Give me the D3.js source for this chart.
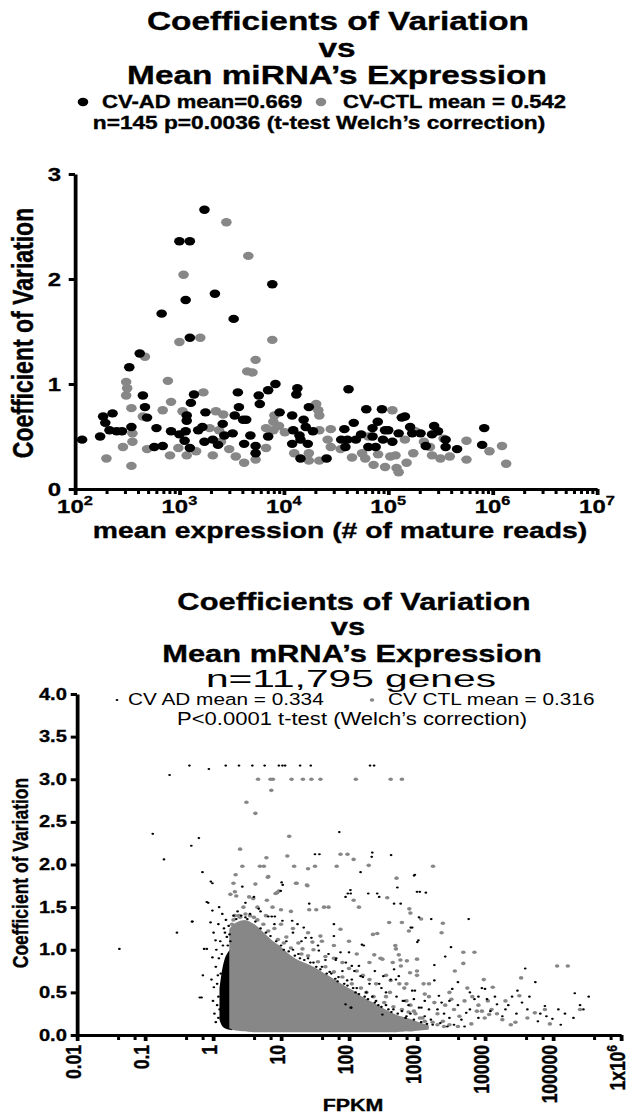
<!DOCTYPE html>
<html>
<head>
<meta charset="utf-8">
<script src="https://cdn.jsdelivr.net/npm/d3@7"></script>
<style>
  body { margin: 0; background: #fff; }
  text { font-family: "Liberation Sans", Arial, Helvetica, sans-serif; }
</style>
</head>
<body>
<div id="plot"></div>
<script>
// ---- miRNA panel: [mean reads, CV] ----
var adMirna = [
  [117,0.47],[174,0.50],[186,0.69],[195,0.63],[229,0.72],[214,0.56],[251,0.55],[282,0.55],[331,1.16],[347,0.59],
  [417,1.29],[447,0.89],[468,0.78],[490,0.68],[603,0.58],[575,0.40],[692,0.41],[832,0.55],[1175,0.70],[1175,0.65],
  [1148,0.55],[1122,0.46],[1259,0.39],[1288,0.82],[1380,0.90],[1514,0.56],[1660,0.59],[1778,0.73],[1738,0.45],[2089,0.47],
  [2344,0.42],[2692,0.51],[3236,0.53],[3631,0.92],[3715,0.78],[3388,0.70],[4074,0.66],[4169,0.43],[1000,0.52],[2600,0.62],
  [1738,2.66],[1000,2.36],[1259,2.36],[1148,1.80],[2188,1.86],[7762,1.95],[676,1.67],[3311,1.62],[1259,1.44],
  [5754,0.89],[7079,0.94],[8318,1.00],[5888,0.81],[9120,0.73],[13490,0.96],[13183,0.90],[12023,0.70],[17378,0.78],[15488,0.66],
  [12303,0.56],[14125,0.51],[12023,0.43],[14454,0.47],[16218,0.59],[16982,0.43],[14454,0.29],[25704,0.29],[4365,0.66],[4786,0.51],
  [5370,0.41],[5370,0.34],[7079,0.50],[41687,0.95],[38019,0.57],[46774,0.63],[35481,0.47],[40738,0.47],[48978,0.47],[38905,0.40],
  [61660,0.76],[87096,0.76],[79433,0.64],[70795,0.58],[93325,0.56],[70795,0.50],[64565,0.40],[75858,0.40],[89125,0.47],[109648,0.45],
  [125893,0.53],[134896,0.68],[144544,0.69],[162181,0.59],[169824,0.53],[204174,0.53],[275423,0.60],[263027,0.52],[229087,0.41],[354813,0.47],
  [354813,0.40],[457088,0.38],[831764,0.58],[794328,0.42],[19000,0.55],[55000,0.52],[100000,0.56],[300000,0.55]
];
var ctlMirna = [
  [200,0.29],[288,0.40],[309,1.02],[316,0.96],[309,0.89],[347,0.77],[355,0.53],[355,0.45],[347,0.22],[468,1.26],
  [447,0.69],[490,0.38],[692,0.75],[776,1.03],[832,0.83],[813,0.32],[977,0.39],[1072,0.74],[1175,0.32],[1445,0.36],
  [1698,0.92],[1950,0.58],[2239,0.74],[2630,0.71],[2089,0.32],[2399,0.56],[3467,0.31],[4169,0.25],[4467,1.12],[1000,1.40],
  [2818,2.54],[4571,2.22],[1096,2.04],[1585,1.44],[7762,1.42],[5370,1.23],[5012,1.11],
  [8128,0.70],[7943,0.64],[6761,0.58],[7943,0.56],[10233,0.54],[6761,0.39],[5370,0.28],[20417,0.81],[21380,0.75],
  [21878,0.70],[21878,0.56],[28184,0.57],[26303,0.47],[28184,0.40],[12589,0.34],[17378,0.34],[17378,0.27],[21878,0.27],[56234,0.34],
  [60256,0.29],[72444,0.23],[93325,0.21],[120226,0.20],[125893,0.16],[104713,0.31],[117490,0.32],[109648,0.75],[144544,0.47],[173780,0.34],
  [64565,0.50],[181970,0.55],[251189,0.40],[263027,0.32],[316228,0.29],[389045,0.31],[338844,0.48],[562341,0.46],[562341,0.28],[933254,0.36],
  [1230269,0.41],[1348963,0.24],[2500,0.45],[3000,0.38],[9000,0.60],[35000,0.38],[45000,0.30],[80000,0.33],[150000,0.25],[220000,0.45]
];
var mirnaTickExp = [2, 3, 4, 5, 6, 7];
var mirnaYTicks = [0, 1, 2, 3];

// ---- mRNA panel: dense cores [FPKM, low CV, high CV] read as outlines ----
var adCoreFpkm = [1.3, 1.45, 1.6, 1.85];
var adCoreLow  = [0.18, 0.10, 0.08, 0.07];
var adCoreHigh = [0.55, 0.80, 0.92, 1.00];

var ctlCoreFpkm = [1.85, 2.2, 3, 4, 5.3, 7, 9.3, 12, 16.6, 22, 28.5, 40, 51, 70, 89, 120, 155, 200, 278, 380, 490, 650, 850, 1070, 1400];
var ctlCoreHigh = [1.24, 1.30, 1.33, 1.28, 1.19, 1.10, 1.03, 0.95, 0.87, 0.83, 0.79, 0.72, 0.67, 0.60, 0.55, 0.49, 0.43, 0.38, 0.32, 0.26, 0.22, 0.19, 0.16, 0.13, 0.10];
var ctlCoreLow  = [0.09, 0.07, 0.06, 0.05, 0.05, 0.05, 0.05, 0.05, 0.05, 0.05, 0.05, 0.05, 0.05, 0.05, 0.05, 0.05, 0.05, 0.05, 0.05, 0.05, 0.05, 0.06, 0.06, 0.07, 0.08];

// scattered genes outside the cores: [FPKM, CV]
var adGenes = [
  [0.45,3.16],[0.87,3.12],[1.54,3.16],[2.41,3.16],[3.79,3.16],[5.75,3.16],[9.3,3.16],[10.5,3.16],[11.5,3.16],[19.1,3.16],
  [27.4,3.16],[204,3.16],[234,3.16],[0.23,3.05],[0.13,2.36],[0.62,2.31],[0.48,2.22],[0.19,2.06],[0.70,1.91],[0.98,1.78],
  [2.7,1.74],[10.2,1.79],[10.6,1.76],[31.6,2.12],[36.7,2.12],[4.0,1.62],[72,2.38],[220,2.14],[216,2.09],[416,2.11],
  [148,1.91],[930,1.88],[514,1.73],[105,1.70],[96,1.66],[192,1.66],[278,1.62],[1000,1.68],[1100,1.68],[0.042,1.01],
  [0.295,1.20],[0.49,1.33],[0.81,1.56],[0.64,0.44],[0.71,0.70],[0.81,1.01],[0.93,1.80],[1350,1.67],[575,1.54],[260,1.66],
  [5750,1.36],[1620,1.36],[810,1.26],[155,1.06],[1050,1.11],[3160,1.03],[2600,0.92],[1800,0.82],[39000,0.78],[209000,0.49],
  [335000,0.45],[250000,0.35],[76000,0.34],[98000,0.19],[42000,0.30],[29000,0.25],[22000,0.35],[10700,0.42],[7000,0.42],[10000,0.54],
  [15000,0.36],[4000,0.62],[3300,0.54],[1800,0.64],[2100,0.46],[1600,0.18],[930,0.52],[540,0.69],[410,0.65],[320,0.69],
  [240,0.75],[94,0.64],[108,0.32],[620,0.40],[1160,0.32],[5300,0.26],[8000,0.20],[0.85,1.55],[0.50,1.33],[0.98,1.46],
  [0.74,1.01],[0.68,0.44],[1.23,1.50],[1.37,1.42],[1.2,1.30],[0.92,1.32],[1.09,1.11],[0.98,0.91],[1.03,0.56],[9.9,1.69],
  [4.7,1.48],[6.5,1.39],[7.3,1.39],[8.1,1.39],[10.5,1.34],[14.6,1.34],[17.5,1.30],[21.6,1.26],[60,1.30],[89,1.62],
  [106,1.66],[460,1.54],[905,1.87],[165,1.05],[60,1.16],[100,0.97],[75,0.97],[110,0.81],[140,0.81],[148,0.69],
  [278,0.60],[460,0.77],[490,0.65],[850,0.52],[1070,0.32],[1010,1.09],[850,1.26],[1070,1.38],[26,1.54],[23,1.14],
  [28,1.14],[36,0.99],[45,0.88],[64,0.88],[80,0.75],[110,0.65],[89,0.36],[106,0.32],[250,0.40],[310,0.24],
  [680,0.20],[1.1,0.80],[1.15,0.60],[1.2,0.45],[1.25,0.30],[1.2,0.20],[1.4,1.05],[1.5,1.20],[1.6,1.15],[1.7,1.28],
  [1.35,0.95],[1.15,0.35],[2.0,1.40],[2.3,1.45],[3.0,1.38],[3.5,1.42],[12,1.10],[15,1.00],[18,0.95],[25,0.90],
  [30,0.85],[40,0.80],[55,0.72],[70,0.68],[130,0.55],[180,0.50],[220,0.45],[350,0.35],[450,0.30],[600,0.28],
  [800,0.25],[1300,0.22],[2000,0.30],[2500,0.25],[3000,0.20],[4500,0.18],[6000,0.30],[12000,0.28],[18000,0.22],[60000,0.16],
  [150000,0.25],[280000,0.30],[130000,0.12],[55000,0.62],[30000,0.52],
  [2.2,1.36],[2.6,1.40],[3.2,1.36],[4.2,1.33],[5,1.25],[6,1.20],[7,1.16],[8.5,1.10],[10,1.05],[11,1.00],
  [13,0.98],[16,0.93],[19,0.90],[22,0.88],[27,0.85],[33,0.80],[38,0.77],[47,0.72],[52,0.74],[63,0.66],
  [68,0.63],[85,0.60],[95,0.58],[115,0.55],[125,0.50],[140,0.48],[170,0.45],[190,0.42],[240,0.38],[270,0.35],
  [300,0.33],[380,0.30],[420,0.27],[520,0.25],[700,0.22],[900,0.18],[1150,0.15],[1400,0.13],[1700,0.12],[2200,0.14],
  [2800,0.10],[3500,0.12],[5000,0.10],[1.05,0.25],[1.1,0.15],[1.0,0.40],[1.18,0.70],[1.22,0.90],[1.28,1.10],[1.3,0.72],
  [1.45,1.25],[1.55,1.35],[1.65,1.05],[1.75,1.18],[1.8,1.10],[0.95,0.65],[1.12,1.00],[1.02,1.20],[3,1.55],[5,1.45],
  [8,1.30],[15,1.20],[20,1.10],[35,1.05],[50,0.95],[65,0.90],[90,0.85],[120,0.75],[160,0.68],[200,0.60],
  [300,0.55],[350,0.50],[500,0.45],[650,0.40],[750,0.35],[900,0.42],[1300,0.40],[1500,0.30],[2300,0.38],[3000,0.40],
  [4000,0.35],[6000,0.50],[8000,0.45],[9000,0.55],[14000,0.45],[20000,0.30],[25000,0.45],[35000,0.38],[45000,0.45],[65000,0.25],
  [80000,0.22],[120000,0.30],[200000,0.20]
];
var ctlGenes = [
  [4.6,3.0],[7.0,3.0],[7.6,3.0],[14.3,3.0],[21,3.0],[28,3.0],[38,3.0],[126,3.0],[410,3.0],[600,3.0],
  [7.2,2.87],[3.1,2.73],[4.2,2.60],[13.2,2.33],[2.5,2.18],[6.1,2.08],[12.4,2.10],[2.7,1.98],[4.9,1.98],[5.6,1.98],
  [15.6,1.98],[25,1.95],[31.6,1.98],[66,1.98],[195,1.99],[1720,1.98],[2.15,1.88],[6.5,1.86],[4.2,1.77],[2.0,1.78],
  [8.8,1.67],[17,1.78],[24,1.76],[1.8,1.65],[2.1,1.68],[2.2,1.63],[3.4,1.62],[75,2.12],[95,2.12],[117,2.06],
  [500,1.84],[365,1.61],[115000,0.81],[165000,0.81],[34000,0.67],[4800,0.97],[7000,0.97],[2300,1.20],[2400,1.31],[1150,1.36],
  [770,1.48],[800,1.43],[390,1.32],[225,1.18],[480,1.05],[290,0.90],[580,0.81],[710,0.87],[1000,0.89],[790,0.73],
  [3600,0.75],[4800,0.84],[9600,0.65],[13000,0.56],[7600,0.28],[9900,0.20],[6300,0.13],[24000,0.12],[54000,0.26],[42000,0.20],
  [76000,0.30],[90000,0.13],[250000,0.30],[11500,0.24],[2400,0.16],[6.4,1.85],[16.6,1.78],[24.5,1.75],[9.3,1.69],[8.3,1.66],
  [3.9,1.60],[6.2,1.58],[7.5,1.50],[10,1.47],[14,1.45],[26,1.47],[33,1.47],[43,1.50],[50,1.50],[140,1.50],
  [117,1.58],[75,1.24],[38,1.16],[29,1.09],[20.7,1.01],[260,1.19],[235,0.94],[490,1.01],[540,0.94],[600,1.32],
  [760,1.22],[310,0.89],[440,0.85],[570,0.88],[1000,0.75],[1000,0.70],[410,0.64],[1250,0.60],[1500,0.45],[1800,0.38],
  [2000,0.25],[2600,0.35],[3000,0.50],[3200,0.42],[3500,0.30],[4200,0.22],[5000,0.40],[5500,0.55],[6500,0.45],[8000,0.35],
  [9000,0.28],[11000,0.40],[12500,0.30],[15000,0.25],[18000,0.18],[20000,0.40],[28000,0.15],[32000,0.46],[700,0.40],[800,0.35],
  [900,0.28],[1200,0.20],[1300,0.48],[650,0.55],[550,0.60],[400,0.50],[350,0.45],[250,0.60],[200,0.65],[160,0.70],
  [130,0.75],[100,0.78],[80,0.85],[60,0.90],[45,0.92],[30,1.00],[18,1.08],[12,1.15],[8,1.25],[5.5,1.30],
  [4,1.38],[3,1.42],[2.4,1.40],[2.0,1.35],[1.9,1.20],
  [2.5,1.38],[3.5,1.40],[4.5,1.35],[6.5,1.22],[9,1.12],[11,1.08],[14,1.02],[20,0.95],[25,0.93],[35,0.86],
  [45,0.80],[60,0.74],[80,0.68],[110,0.60],[150,0.55],[180,0.50],[230,0.45],[330,0.38],[450,0.33],[600,0.30],
  [750,0.27],[950,0.25],[1100,0.20],[1300,0.16],[1700,0.15],[2000,0.12],[2500,0.10],[3000,0.12],[4000,0.10],[1.9,1.30],
  [2.1,1.40],[2.8,1.50],[4.5,1.50],[6,1.40],[10,1.30],[15,1.25],[25,1.20],[40,1.10],[60,1.05],[100,1.10],
  [130,0.95],[200,0.85],[350,0.70],[700,0.60],[1500,0.60]
];
var mrnaTicks = [0.01, 0.1, 1, 10, 100, 1000, 10000, 100000, 1000000];
var mrnaTickLabels = ["0.01", "0.1", "1", "10", "100", "1000", "10000", "100000", "1x10"];
var mrnaYTicks = [0, 0.5, 1, 1.5, 2, 2.5, 3, 3.5, 4];

var black = "#000", grey = "#878787";
var sx = 1.26;   // the whole figure is stretched sideways

var svg = d3.select("#plot").append("svg")
  .attr("width", 630)
  .attr("height", 1119);
var g = svg.append("g").attr("transform", "scale(" + sx + ",1)");

function label(x, y, str, size, weight, anchor) {
  var t = g.append("text")
    .attr("x", x / sx)
    .attr("y", y)
    .attr("text-anchor", anchor || "middle")
    .attr("font-size", size)
    .attr("font-weight", weight)
    .text(str);
  if (weight === "bold") t.attr("stroke", "#000").attr("stroke-width", 0.35);
  return t;
}

// ================= miRNA panel =================
label(338, 30, "Coefficients of Variation", 26.5, "bold");
label(337, 57, "vs", 26.5, "bold");
label(337, 84, "Mean miRNA\u2019s Expression", 26.5, "bold");
g.append("circle").attr("cx", 83 / sx).attr("cy", 102).attr("r", 4.2).attr("fill", black);
label(102, 108, "CV-AD mean=0.669", 17.5, "bold", "start");
g.append("circle").attr("cx", 321 / sx).attr("cy", 102).attr("r", 4.2).attr("fill", grey);
label(343, 108, "CV-CTL mean = 0.542", 17.5, "bold", "start");
label(319, 129, "n=145 p=0.0036 (t-test Welch\u2019s correction)", 18, "bold");

var xTop = d3.scaleLog().domain([1e2, 1e7]).range([75 / sx, 597 / sx]);
var yTop = d3.scaleLinear().domain([0, 3]).range([489, 174]);

var minorTop = [];
mirnaTickExp.slice(0, -1).forEach(function(e) {
  for (var k = 2; k < 10; k++) minorTop.push(k * Math.pow(10, e));
});

g.append("g")
  .attr("transform", "translate(0,489)")
  .attr("stroke-width", 3)
  .call(d3.axisBottom(xTop)
    .tickValues(mirnaTickExp.map(function(e) { return Math.pow(10, e); }))
    .tickSize(6).tickSizeOuter(0).tickFormat(""));
g.append("g")
  .attr("transform", "translate(0,489)")
  .attr("stroke-width", 2.4)
  .call(d3.axisBottom(xTop).tickValues(minorTop).tickSize(5).tickFormat(""))
  .select(".domain").remove();

mirnaTickExp.forEach(function(e) {
  var t = g.append("text")
    .attr("x", xTop(Math.pow(10, e)))
    .attr("y", 513)
    .attr("text-anchor", "middle")
    .attr("font-size", 19)
    .attr("font-weight", "bold")
    .attr("stroke", "#000").attr("stroke-width", 0.3);
  t.append("tspan").text("10");
  t.append("tspan").attr("dy", -8).attr("font-size", 13).text(e);
});

var yAxisTop = g.append("g")
  .attr("transform", "translate(" + 75 / sx + ",0)")
  .attr("stroke-width", 3)
  .call(d3.axisLeft(yTop).tickValues(mirnaYTicks).tickSize(5).tickSizeOuter(0).tickPadding(6).tickFormat(d3.format("d")));
yAxisTop.selectAll("text")
  .attr("font-size", 19)
  .attr("font-weight", "bold")
  .attr("stroke-width", 0.3)
  .attr("stroke", "#000")
  .attr("font-family", "Liberation Sans, Arial, sans-serif");

g.append("text")
  .attr("transform", "translate(" + 33 / sx + ",333) rotate(-90)")
  .attr("text-anchor", "middle")
  .attr("font-size", 23)
  .attr("font-weight", "bold")
  .attr("stroke", "#000").attr("stroke-width", 0.35)
  .text("Coefficient of Variation");
label(340, 538, "mean expression (# of mature reads)", 22.5, "bold");

g.append("g").selectAll("circle")
  .data(ctlMirna).enter().append("circle")
  .attr("cx", function(d) { return xTop(d[0]); })
  .attr("cy", function(d) { return yTop(d[1]); })
  .attr("r", 4.2)
  .attr("fill", grey);
g.append("g").selectAll("circle")
  .data(adMirna).enter().append("circle")
  .attr("cx", function(d) { return xTop(d[0]); })
  .attr("cy", function(d) { return yTop(d[1]); })
  .attr("r", 4.2)
  .attr("fill", black);

// ================= mRNA panel =================
label(354, 610, "Coefficients of Variation", 24.5, "bold");
label(348, 635, "vs", 24.5, "bold");
label(352, 662, "Mean mRNA\u2019s Expression", 24.5, "bold");
label(351, 687, "n=11,795 genes", 24, "normal")
  .attr("textLength", 290 / sx)
  .attr("lengthAdjust", "spacingAndGlyphs");
g.append("circle").attr("cx", 117 / sx).attr("cy", 700).attr("r", 1.1).attr("fill", black);
label(128, 705, "CV AD mean = 0.334", 16.5, "normal", "start");
g.append("circle").attr("cx", 372 / sx).attr("cy", 700).attr("r", 1.8).attr("fill", grey);
label(388, 705, "CV CTL mean = 0.316", 16.5, "normal", "start");
label(352, 725, "P<0.0001 t-test (Welch\u2019s correction)", 17.5, "normal");

var xBot = d3.scaleLog().domain([0.01, 1e6]).range([77 / sx, 621 / sx]);
var yBot = d3.scaleLinear().domain([0, 4]).range([1035, 694]);

var minorBot = [];
mrnaTicks.slice(0, -1).forEach(function(v) { minorBot.push(4 * v, 7 * v); });

g.append("g")
  .attr("transform", "translate(0,1035)")
  .attr("stroke-width", 3)
  .call(d3.axisBottom(xBot).tickValues(mrnaTicks).tickSize(6).tickSizeOuter(0).tickFormat(""));
g.append("g")
  .attr("transform", "translate(0,1035)")
  .attr("stroke-width", 2.4)
  .call(d3.axisBottom(xBot).tickValues(minorBot).tickSize(5).tickFormat(""))
  .select(".domain").remove();

mrnaTicks.forEach(function(v, i) {
  var t = g.append("text")
    .attr("transform", "translate(" + xBot(v) + ",1045) rotate(-90)")
    .attr("text-anchor", "end")
    .attr("dy", "0.2em")
    .attr("font-size", 17.5)
    .attr("font-weight", "bold")
    .attr("stroke", "#000").attr("stroke-width", 0.3);
  t.append("tspan").text(mrnaTickLabels[i]);
  if (v === 1000000) t.append("tspan").attr("dy", -7).attr("font-size", 12).text("6");
});

var yAxisBot = g.append("g")
  .attr("transform", "translate(" + 77 / sx + ",0)")
  .attr("stroke-width", 3)
  .call(d3.axisLeft(yBot).tickValues(mrnaYTicks).tickSize(5).tickSizeOuter(0).tickPadding(3).tickFormat(d3.format(".1f")));
yAxisBot.selectAll("text")
  .attr("font-size", 16)
  .attr("font-weight", "bold")
  .attr("stroke-width", 0.3)
  .attr("stroke", "#000")
  .attr("font-family", "Liberation Sans, Arial, sans-serif");

g.append("text")
  .attr("transform", "translate(" + 28 / sx + ",873) rotate(-90)")
  .attr("text-anchor", "middle")
  .attr("font-size", 17.5)
  .attr("font-weight", "bold")
  .attr("stroke", "#000").attr("stroke-width", 0.3)
  .text("Coefficient of Variation");
label(353, 1111, "FPKM", 17, "bold");

var core = d3.area()
  .x(function(d) { return xBot(d[0]); })
  .y0(function(d) { return yBot(d[1]); })
  .y1(function(d) { return yBot(d[2]); })
  .curve(d3.curveCatmullRom);

g.append("path")
  .datum(d3.zip(adCoreFpkm, adCoreLow, adCoreHigh))
  .attr("d", core)
  .attr("fill", black)
  .attr("stroke", black)
  .attr("stroke-width", 2);
g.append("path")
  .datum(d3.zip(ctlCoreFpkm, ctlCoreLow, ctlCoreHigh))
  .attr("d", core)
  .attr("fill", grey)
  .attr("stroke", grey)
  .attr("stroke-width", 3);

g.append("g").selectAll("circle")
  .data(ctlGenes).enter().append("circle")
  .attr("cx", function(d) { return xBot(d[0]); })
  .attr("cy", function(d) { return yBot(d[1]); })
  .attr("r", 1.8)
  .attr("fill", grey);
g.append("g").selectAll("circle")
  .data(adGenes).enter().append("circle")
  .attr("cx", function(d) { return xBot(d[0]); })
  .attr("cy", function(d) { return yBot(d[1]); })
  .attr("r", 1.1)
  .attr("fill", black);
</script>
</body>
</html>
